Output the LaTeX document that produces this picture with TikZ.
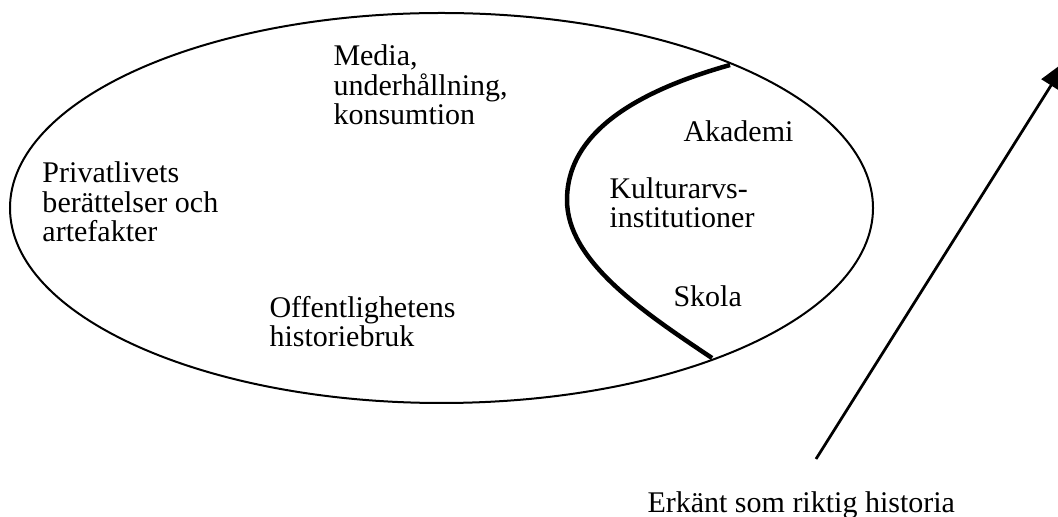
\documentclass[tikz,border=0pt]{standalone}
\usepackage{fontspec}
\setmainfont{Liberation Serif}
\usetikzlibrary{arrows.meta}

\begin{document}
\begin{tikzpicture}[x=0.4pt, y=-0.4pt,
    lbl/.style={anchor=base west, align=left, inner sep=0pt, font=\fontsize{12}{11.8}\selectfont}]
    \useasboundingbox (0,0) rectangle (1058,517);

    % Outer ellipse: all uses of history
    \draw[line width=0.8pt] (441.5,208) ellipse [x radius=431.5, y radius=195];

    % Thick border around the recognised institutions
    \draw[line width=1.8pt]
      (730,65) .. controls (605,100) and (567,150) .. (567,200)
               .. controls (567,260) and (640,310) .. (712,358);

    % Labels in the ellipse (base = last line)
    \node[lbl] (privat) at (42,242) {Privatlivets\\berättelser och\\artefakter};
    \node[lbl] (media) at (333,125) {Media,\\underhållning,\\konsumtion};
    \node[lbl] (offentlig) at (269,347) {Offentlighetens\\historiebruk};
    % Labels behind the thick border
    \node[lbl] (akademi) at (683,142) {Akademi};
    \node[lbl] (kulturarv) at (609,228) {Kulturarvs-\\institutioner};
    \node[lbl] (skola) at (673,307) {Skola};

    % Arrow towards recognised history (tip cropped at the edge)
    \node[lbl] (erkant) at (647,513) {Erkänt som riktig historia};
    \coordinate (pilstart) at (816,459);
    \coordinate (pilslut) at (1067,60);
    \draw[line width=1.1pt, -{Triangle[length=12pt, width=9pt]}] (pilstart) -- (pilslut);

\end{tikzpicture}
\end{document}
